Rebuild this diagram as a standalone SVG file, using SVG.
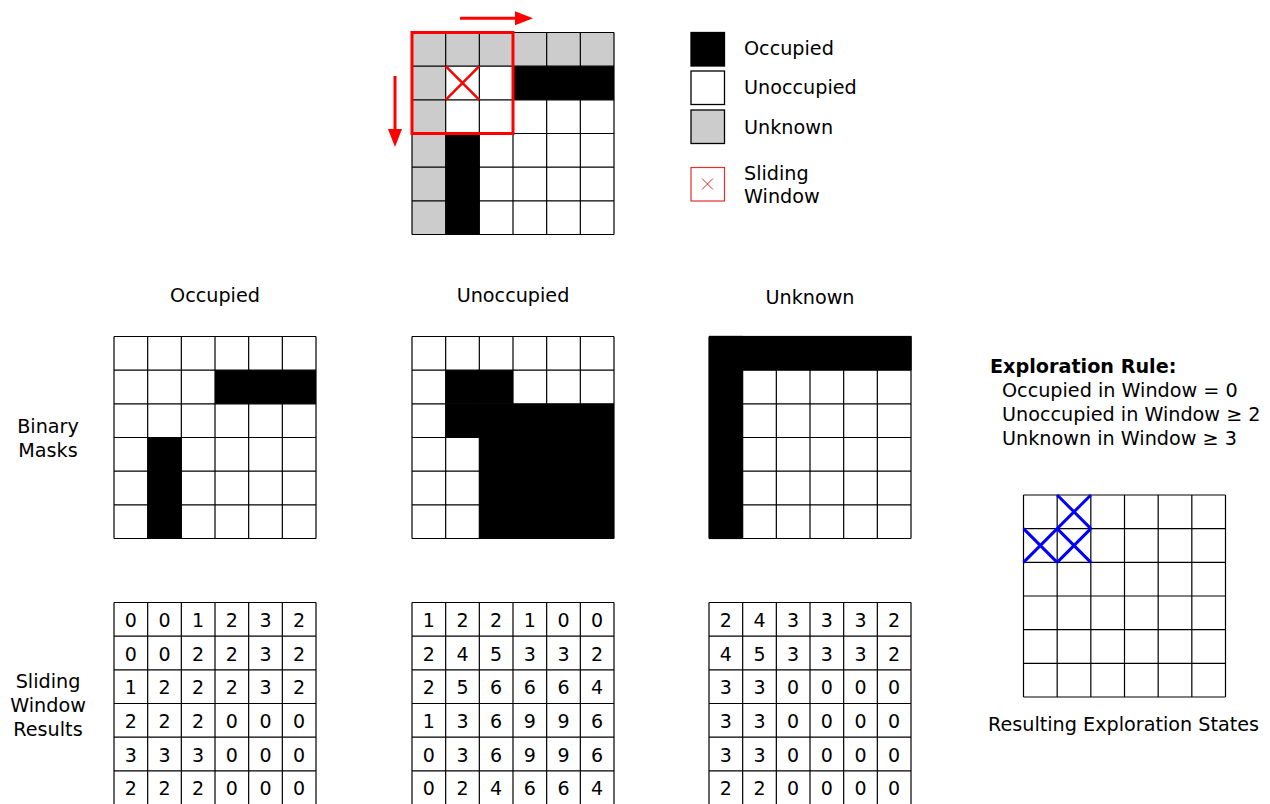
<svg xmlns="http://www.w3.org/2000/svg" xmlns:xlink="http://www.w3.org/1999/xlink" width="1270" height="804" viewBox="0 0 1270 804">
<style>
text{font-family:"DejaVu Sans","Liberation Sans",sans-serif;font-size:19.2px;fill:#000}
.c{text-anchor:middle}
.b{font-weight:bold}
.num{font-size:19px;text-anchor:middle}
.gl{fill:none;stroke:#000;stroke-width:1.2}
.blk{fill:#000}
.gry{fill:#cccccc}
.wht{fill:#fff}
.bx{stroke:#000;stroke-width:1.3}
.red{stroke:#ff0000;fill:none}
.blue{stroke:#0000ff;stroke-width:3;fill:none}
</style>
<defs>
<path id="grid" class="gl" d="M0 0H202M0 33.67H202M0 67.33H202M0 101H202M0 134.67H202M0 168.33H202M0 202H202M0 0V202M33.67 0V202M67.33 0V202M101 0V202M134.67 0V202M168.33 0V202M202 0V202"/>
<marker id="ah" markerUnits="userSpaceOnUse" markerWidth="18" markerHeight="14" refX="0" refY="7" orient="auto">
<path d="M0,0 L18,7 L0,14 z" fill="#ff0000"/>
</marker>
</defs>
<rect width="1270" height="804" fill="#fff"/>

<g id="map">
<g transform="translate(412,32.5)">
<rect class="wht" x="0" y="0" width="202" height="202"/>
<rect class="gry" x="0" y="0" width="202" height="33.67"/>
<rect class="gry" x="0" y="0" width="33.67" height="202"/>
<rect class="blk" x="101" y="33.67" width="101" height="33.67"/>
<rect class="blk" x="33.67" y="101" width="33.67" height="101"/>
<use xlink:href="#grid"/>
<rect class="red" x="0" y="0" width="101" height="101" stroke-width="3"/>
<path class="red" stroke-width="2.5" d="M33.67 33.67L67.33 67.33M67.33 33.67L33.67 67.33"/>
</g>
</g>

<g id="connectors">
<line x1="460" y1="18.3" x2="515" y2="18.3" stroke="#ff0000" stroke-width="3" marker-end="url(#ah)"/>
<line x1="395" y1="76" x2="395" y2="129" stroke="#ff0000" stroke-width="3" marker-end="url(#ah)"/>
</g>

<g id="legend">
<rect class="blk bx" x="691" y="32.5" width="33.5" height="33.5"/>
<text x="744" y="55">Occupied</text>
<rect class="wht bx" x="691" y="71" width="33.5" height="33.5"/>
<text x="744" y="94">Unoccupied</text>
<rect class="gry bx" x="691" y="110" width="33.5" height="33.5"/>
<text x="744" y="134">Unknown</text>
<rect x="691" y="167.5" width="33.5" height="33.5" fill="#fff" stroke="#e03030" stroke-width="1.2"/>
<path d="M702 178.5L713 189.5M713 178.5L702 189.5" stroke="#e03030" stroke-width="1" fill="none"/>
<text x="744" y="180">Sliding</text>
<text x="744" y="203">Window</text>
</g>

<g id="titles">
<text class="c" x="215" y="302">Occupied</text>
<text class="c" x="513" y="302">Unoccupied</text>
<text class="c" x="810" y="304">Unknown</text>
<text class="c" x="48" y="433">Binary</text>
<text class="c" x="48" y="457">Masks</text>
<text class="c" x="48" y="688">Sliding</text>
<text class="c" x="48" y="712">Window</text>
<text class="c" x="48" y="736">Results</text>
</g>

<g id="mask-occupied" transform="translate(114,336.5)">
<rect class="wht" width="202" height="202"/>
<rect class="blk" x="101" y="33.67" width="101" height="33.67"/>
<rect class="blk" x="33.67" y="101" width="33.67" height="101"/>
<use xlink:href="#grid"/>
</g>

<g id="mask-unoccupied" transform="translate(412,336.5)">
<rect class="wht" width="202" height="202"/>
<rect class="blk" x="33.67" y="33.67" width="67.33" height="33.67"/>
<rect class="blk" x="33.67" y="67.33" width="168.33" height="33.67"/>
<rect class="blk" x="67.33" y="101" width="134.67" height="101"/>
<use xlink:href="#grid"/>
</g>

<g id="mask-unknown" transform="translate(709,336.5)">
<rect class="wht" width="202" height="202"/>
<use xlink:href="#grid"/>
<rect class="blk" x="0" y="-0.6" width="202.6" height="34.27"/>
<rect class="blk" x="0" y="-0.6" width="33.67" height="203.2"/>
</g>

<g id="result-occupied" transform="translate(114,602.5)">
<use xlink:href="#grid"/>
<text class="num" x="16.83" y="24.5">0</text><text class="num" x="50.5" y="24.5">0</text><text class="num" x="84.17" y="24.5">1</text><text class="num" x="117.83" y="24.5">2</text><text class="num" x="151.5" y="24.5">3</text><text class="num" x="185.17" y="24.5">2</text>
<text class="num" x="16.83" y="58.17">0</text><text class="num" x="50.5" y="58.17">0</text><text class="num" x="84.17" y="58.17">2</text><text class="num" x="117.83" y="58.17">2</text><text class="num" x="151.5" y="58.17">3</text><text class="num" x="185.17" y="58.17">2</text>
<text class="num" x="16.83" y="91.83">1</text><text class="num" x="50.5" y="91.83">2</text><text class="num" x="84.17" y="91.83">2</text><text class="num" x="117.83" y="91.83">2</text><text class="num" x="151.5" y="91.83">3</text><text class="num" x="185.17" y="91.83">2</text>
<text class="num" x="16.83" y="125.5">2</text><text class="num" x="50.5" y="125.5">2</text><text class="num" x="84.17" y="125.5">2</text><text class="num" x="117.83" y="125.5">0</text><text class="num" x="151.5" y="125.5">0</text><text class="num" x="185.17" y="125.5">0</text>
<text class="num" x="16.83" y="159.17">3</text><text class="num" x="50.5" y="159.17">3</text><text class="num" x="84.17" y="159.17">3</text><text class="num" x="117.83" y="159.17">0</text><text class="num" x="151.5" y="159.17">0</text><text class="num" x="185.17" y="159.17">0</text>
<text class="num" x="16.83" y="192.83">2</text><text class="num" x="50.5" y="192.83">2</text><text class="num" x="84.17" y="192.83">2</text><text class="num" x="117.83" y="192.83">0</text><text class="num" x="151.5" y="192.83">0</text><text class="num" x="185.17" y="192.83">0</text>
</g>

<g id="result-unoccupied" transform="translate(412,602.5)">
<use xlink:href="#grid"/>
<text class="num" x="16.83" y="24.5">1</text><text class="num" x="50.5" y="24.5">2</text><text class="num" x="84.17" y="24.5">2</text><text class="num" x="117.83" y="24.5">1</text><text class="num" x="151.5" y="24.5">0</text><text class="num" x="185.17" y="24.5">0</text>
<text class="num" x="16.83" y="58.17">2</text><text class="num" x="50.5" y="58.17">4</text><text class="num" x="84.17" y="58.17">5</text><text class="num" x="117.83" y="58.17">3</text><text class="num" x="151.5" y="58.17">3</text><text class="num" x="185.17" y="58.17">2</text>
<text class="num" x="16.83" y="91.83">2</text><text class="num" x="50.5" y="91.83">5</text><text class="num" x="84.17" y="91.83">6</text><text class="num" x="117.83" y="91.83">6</text><text class="num" x="151.5" y="91.83">6</text><text class="num" x="185.17" y="91.83">4</text>
<text class="num" x="16.83" y="125.5">1</text><text class="num" x="50.5" y="125.5">3</text><text class="num" x="84.17" y="125.5">6</text><text class="num" x="117.83" y="125.5">9</text><text class="num" x="151.5" y="125.5">9</text><text class="num" x="185.17" y="125.5">6</text>
<text class="num" x="16.83" y="159.17">0</text><text class="num" x="50.5" y="159.17">3</text><text class="num" x="84.17" y="159.17">6</text><text class="num" x="117.83" y="159.17">9</text><text class="num" x="151.5" y="159.17">9</text><text class="num" x="185.17" y="159.17">6</text>
<text class="num" x="16.83" y="192.83">0</text><text class="num" x="50.5" y="192.83">2</text><text class="num" x="84.17" y="192.83">4</text><text class="num" x="117.83" y="192.83">6</text><text class="num" x="151.5" y="192.83">6</text><text class="num" x="185.17" y="192.83">4</text>
</g>

<g id="result-unknown" transform="translate(709,602.5)">
<use xlink:href="#grid"/>
<text class="num" x="16.83" y="24.5">2</text><text class="num" x="50.5" y="24.5">4</text><text class="num" x="84.17" y="24.5">3</text><text class="num" x="117.83" y="24.5">3</text><text class="num" x="151.5" y="24.5">3</text><text class="num" x="185.17" y="24.5">2</text>
<text class="num" x="16.83" y="58.17">4</text><text class="num" x="50.5" y="58.17">5</text><text class="num" x="84.17" y="58.17">3</text><text class="num" x="117.83" y="58.17">3</text><text class="num" x="151.5" y="58.17">3</text><text class="num" x="185.17" y="58.17">2</text>
<text class="num" x="16.83" y="91.83">3</text><text class="num" x="50.5" y="91.83">3</text><text class="num" x="84.17" y="91.83">0</text><text class="num" x="117.83" y="91.83">0</text><text class="num" x="151.5" y="91.83">0</text><text class="num" x="185.17" y="91.83">0</text>
<text class="num" x="16.83" y="125.5">3</text><text class="num" x="50.5" y="125.5">3</text><text class="num" x="84.17" y="125.5">0</text><text class="num" x="117.83" y="125.5">0</text><text class="num" x="151.5" y="125.5">0</text><text class="num" x="185.17" y="125.5">0</text>
<text class="num" x="16.83" y="159.17">3</text><text class="num" x="50.5" y="159.17">3</text><text class="num" x="84.17" y="159.17">0</text><text class="num" x="117.83" y="159.17">0</text><text class="num" x="151.5" y="159.17">0</text><text class="num" x="185.17" y="159.17">0</text>
<text class="num" x="16.83" y="192.83">2</text><text class="num" x="50.5" y="192.83">2</text><text class="num" x="84.17" y="192.83">0</text><text class="num" x="117.83" y="192.83">0</text><text class="num" x="151.5" y="192.83">0</text><text class="num" x="185.17" y="192.83">0</text>
</g>

<g id="rule">
<text class="b" x="990" y="373">Exploration Rule:</text>
<text x="1002" y="397">Occupied in Window = 0</text>
<text x="1002" y="421">Unoccupied in Window ≥ 2</text>
<text x="1002" y="445">Unknown in Window ≥ 3</text>
</g>

<g id="exploration-states" transform="translate(1023.5,495)">
<rect class="wht" width="202" height="202"/>
<use xlink:href="#grid"/>
<path class="blue" d="M33.67 0L67.33 33.67M67.33 0L33.67 33.67M0 33.67L33.67 67.33M33.67 33.67L0 67.33M33.67 33.67L67.33 67.33M67.33 33.67L33.67 67.33"/>
</g>
<text class="c" x="1123.5" y="731">Resulting Exploration States</text>
</svg>
